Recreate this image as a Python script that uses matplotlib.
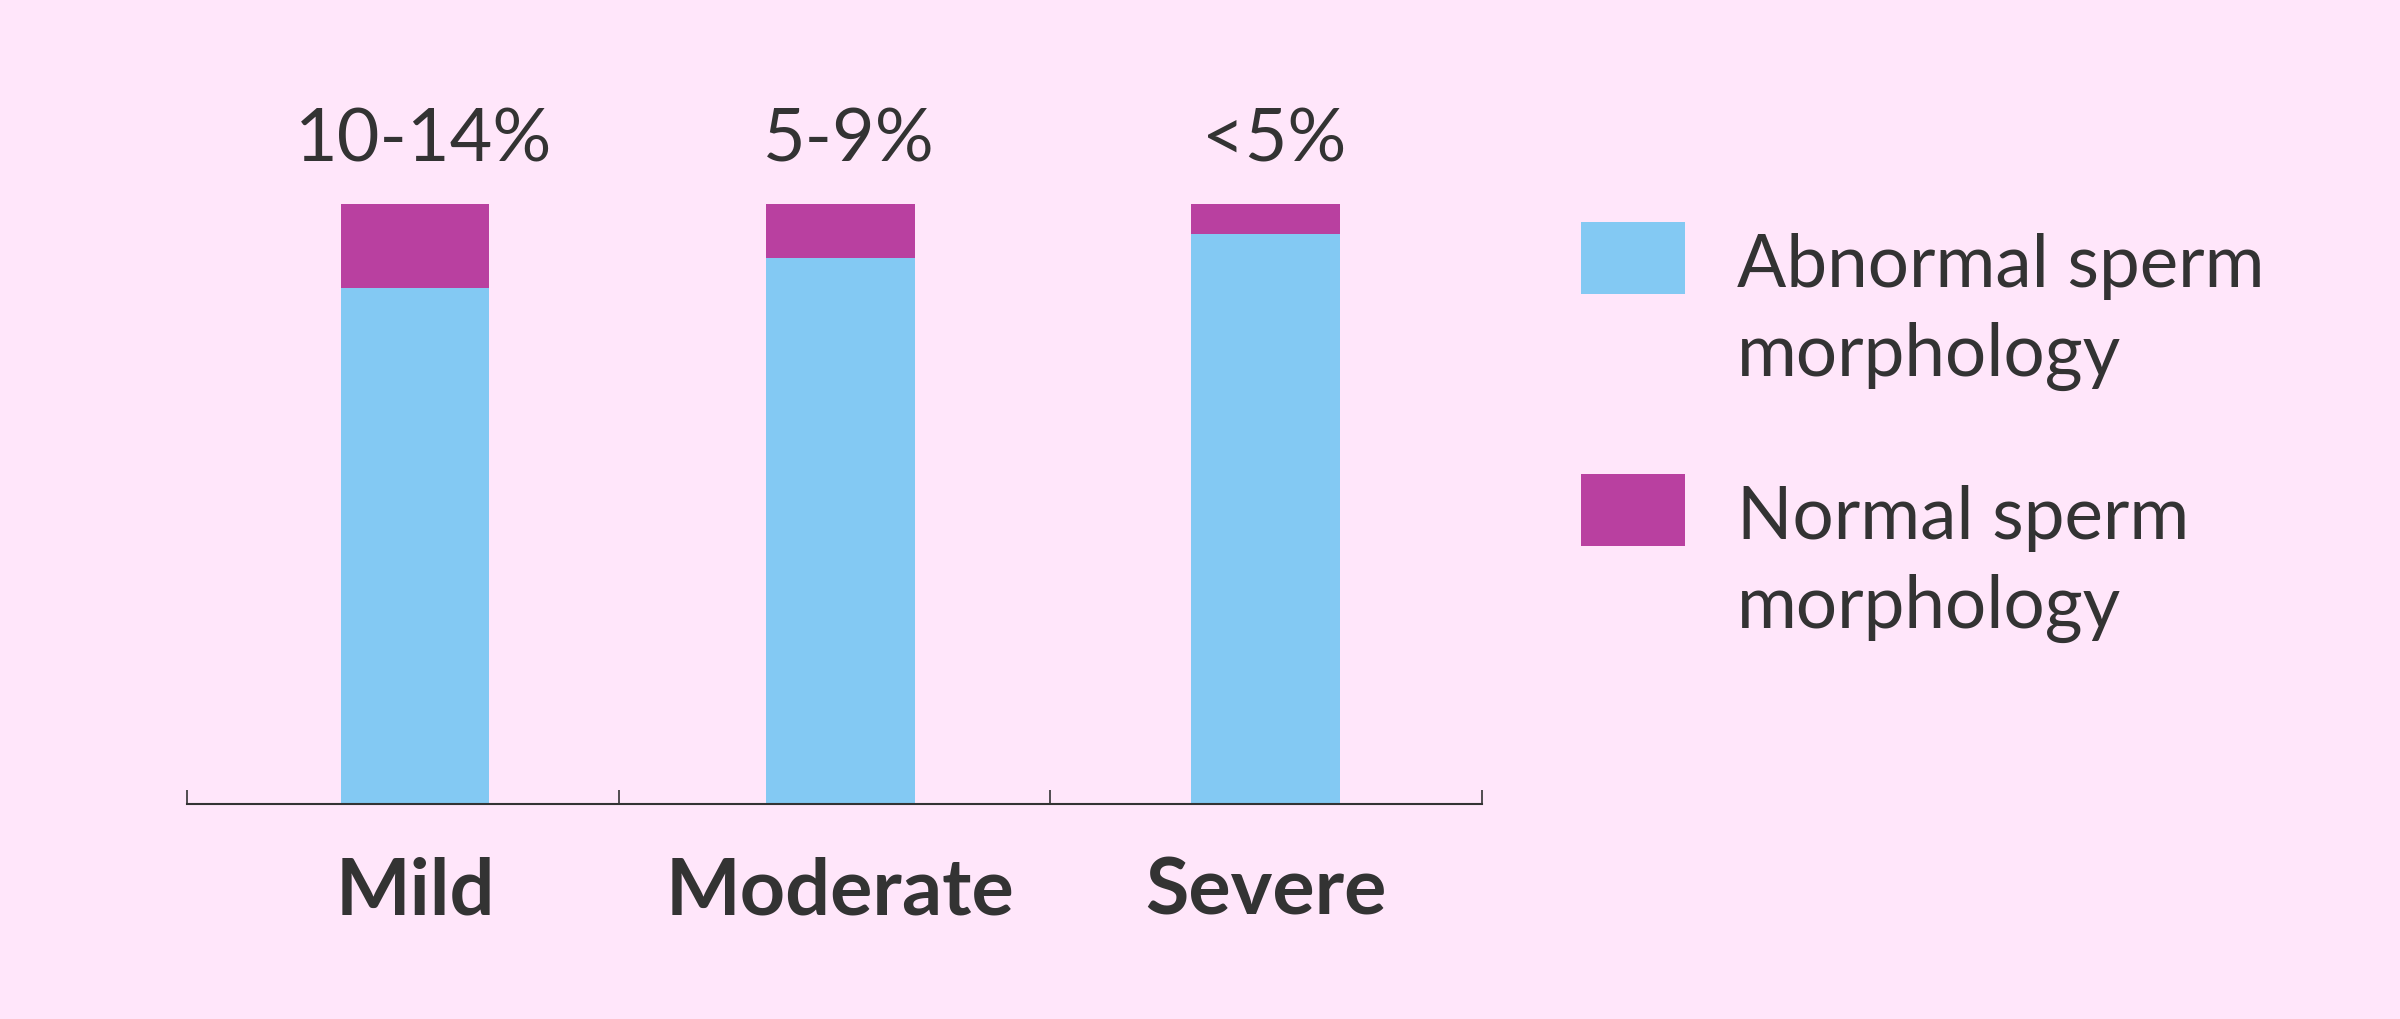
import numpy as np
from matplotlib import pyplot as plt
from matplotlib.patches import Rectangle
from matplotlib.transforms import blended_transform_factory

categories = ["Mild", "Moderate", "Severe"]
normal = [14, 9, 5]
abnormal = [86, 91, 95]
range_labels = ["10-14%", "5-9%", "<5%"]
series_names = ["Abnormal sperm\nmorphology", "Normal sperm\nmorphology"]

bg = "#FFE6FA"
blue = "#83C9F3"
magenta = "#B940A0"
ink = "#333333"

W, H = 2400, 1020
fig = plt.figure(figsize=(W / 100, H / 100), dpi=100, facecolor=bg)
# axes: x 187..1482 px, y 205..805 px from top
ax = fig.add_axes([187 / W, (H - 805) / H, (1482 - 187) / W, 600 / H])
ax.set_facecolor(bg)

x = np.arange(len(categories))
ax.bar(x, abnormal, width=0.35, color=blue)
ax.bar(x, normal, bottom=abnormal, width=0.35, color=magenta)

xmin, xmax = -0.536, 2.508
ax.set_xlim(xmin, xmax)
ax.set_ylim(0, 100)

for s in ["top", "right", "left"]:
    ax.spines[s].set_visible(False)
ax.spines["bottom"].set_color(ink)
ax.spines["bottom"].set_linewidth(1.5)
ax.set_yticks([])
ax.set_xticks(np.linspace(xmin, xmax, 4))
ax.set_xticklabels([])
ax.tick_params(axis="x", direction="in", length=10, width=1.2, color=ink)

tr = blended_transform_factory(ax.transData, ax.transAxes)
for i, c in enumerate(categories):
    ax.text(x[i], -0.1833, c, transform=tr, ha="center", va="baseline",
            fontsize=57, fontweight="bold", family="Lato", color=ink)
    ax.text(x[i] + 0.02, 1.0717, range_labels[i], transform=tr, ha="center",
            va="baseline", fontsize=53, family="Lato", color=ink)

# legend
colors = [blue, magenta]
for k, name in enumerate(series_names):
    dy = 252 * k
    fig.add_artist(Rectangle((1581 / W, (H - 295 - dy) / H), 104 / W, 72 / H,
                             transform=fig.transFigure, color=colors[k], lw=0))
    for j, line in enumerate(name.split("\n")):
        fig.text(1737 / W, (H - 287 - dy - 89 * j) / H, line, ha="left",
                 va="baseline", fontsize=52.5, family="Lato", color=ink)

fig.savefig("out.png", dpi=100, facecolor=bg)
